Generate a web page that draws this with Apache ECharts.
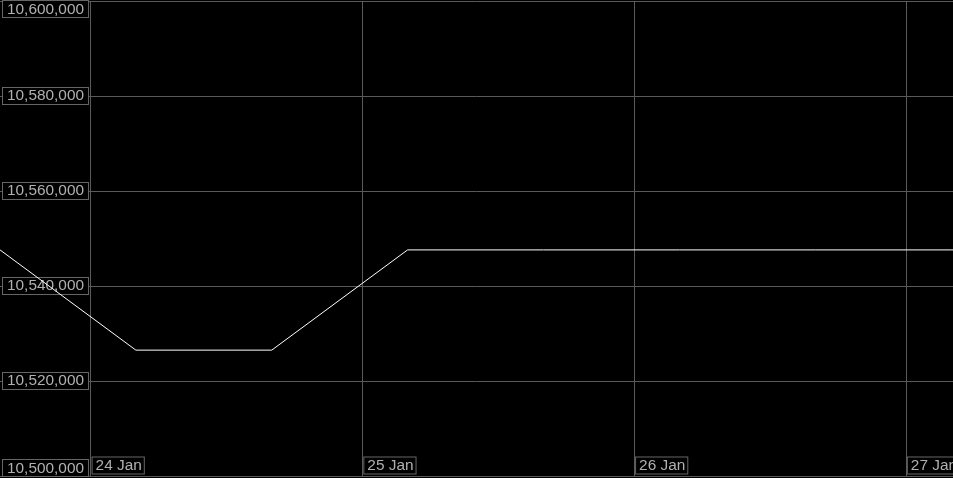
<!DOCTYPE html>
<html>
<head>
<meta charset="utf-8">
<script src="https://cdn.jsdelivr.net/npm/echarts@6/dist/echarts.min.js"></script>
<style>
html,body{margin:0;padding:0;background:#000;}
#chart{width:953px;height:478px;}
</style>
</head>
<body>
<div id="chart"></div>
<script>
// Data (local time)
var times = [
  [2025,0,23,16],[2025,0,24,4],[2025,0,24,16],[2025,0,25,4],
  [2025,0,25,16],[2025,0,26,4],[2025,0,26,16],[2025,0,27,4],[2025,0,27,16]
];
var values = [10547600, 10526500, 10526500, 10547600, 10547600, 10547600, 10547600, 10547600, 10547600];
var monthNames = ['Jan','Feb','Mar','Apr','May','Jun','Jul','Aug','Sep','Oct','Nov','Dec'];
var yMin = 10500000, yMax = 10600000, yStep = 20000;
var xStart = [2025,0,23,16,0], xEnd = [2025,0,27,4,10];

function toDate(a){ return new Date(a[0],a[1],a[2],a[3]||0,a[4]||0).getTime(); }
var seriesData = times.map(function(t,i){ return [toDate(t), values[i]]; });

var gridColor = '#5a5a5a';
var textColor = '#b0b0b0';
var boxColor = '#666666';
var fontFam = 'Liberation Sans, Arial, sans-serif';
var fSize = 15.4;
var fmtNum = function(v){ return Math.round(v).toLocaleString('en-US'); };
var labelBase = {
  inside: true, color: textColor, fontFamily: fontFam, fontSize: fSize,
  backgroundColor: '#000', borderColor: boxColor, borderWidth: 1, padding: [1,4,0,4], lineHeight: 15,
  formatter: fmtNum, margin: 3, align: 'left'
};
function yAx(extra){
  var base = {
    type: 'value', position: 'left', min: yMin, max: yMax,
    axisLine: {show:false}, axisTick: {show:false}, splitLine: {show:false}
  };
  for (var k in extra) base[k] = extra[k];
  return base;
}

var chart = echarts.init(document.getElementById('chart'));
chart.setOption({
  animation: false,
  backgroundColor: '#000',
  grid: {left: 0, right: 0, top: 1, bottom: 2, containLabel: false, outerBoundsMode: 'none'},
  xAxis: {
    type: 'time', min: toDate(xStart), max: toDate(xEnd),
    minInterval: 86400000, maxInterval: 86400000,
    axisLine: {show: true, lineStyle: {color: gridColor, width: 1}},
    axisTick: {show: false},
    splitLine: {show: true, showMinLine: false, showMaxLine: false, lineStyle: {color: gridColor, width: 1}},
    axisLabel: {
      inside: true, showMinLabel: false, showMaxLabel: false,
      color: textColor, fontFamily: fontFam, fontSize: fSize,
      padding: [0,0,0,2], lineHeight: 15,
      align: 'left', margin: 3,
      formatter: function(v){ var d = new Date(v); return '{b|' + d.getDate() + ' ' + monthNames[d.getMonth()] + '}'; },
      rich: {
        b: {color: textColor, fontFamily: fontFam, fontSize: fSize, lineHeight: 15,
            backgroundColor: '#000', borderColor: boxColor, borderWidth: 1, padding: [1,2,0,3]}
      }
    }
  },
  yAxis: [
    yAx({interval: yStep, splitLine: {show: true, lineStyle: {color: gridColor, width: 1}},
         axisLabel: Object.assign({}, labelBase, {showMinLabel: false, showMaxLabel: false, verticalAlign: 'middle'})}),
    yAx({interval: 100000, axisLabel: Object.assign({}, labelBase, {showMinLabel: false, showMaxLabel: true, verticalAlign: 'top'})}),
    yAx({interval: 100000, axisLabel: Object.assign({}, labelBase, {showMinLabel: true, showMaxLabel: false, verticalAlign: 'bottom'})})
  ],
  series: [{
    type: 'line', data: seriesData, yAxisIndex: 0, showSymbol: false, symbol: 'none',
    lineStyle: {color: '#ffffff', width: 1}, clip: true, z: 1
  }]
});
</script>
</body>
</html>
